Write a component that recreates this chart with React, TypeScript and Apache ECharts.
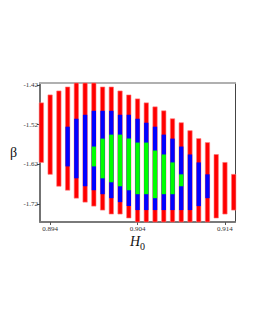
import React, { useEffect, useRef } from "react";
import * as echarts from "echarts";

// H0 values of each column
const h0Values = [
  0.893, 0.894, 0.895, 0.896, 0.897, 0.898, 0.899, 0.9, 0.901, 0.902, 0.903, 0.904,
  0.905, 0.906, 0.907, 0.908, 0.909, 0.91, 0.911, 0.912, 0.913, 0.914, 0.915,
];
// outer (red) region: top & bottom cell centres of beta per column
const redTop = [
  -1.47, -1.45, -1.44, -1.43, -1.42, -1.42, -1.42, -1.43, -1.43, -1.44, -1.45, -1.46,
  -1.47, -1.48, -1.49, -1.51, -1.52, -1.54, -1.56, -1.57, -1.6, -1.62, -1.65,
];
const redBottom = [
  -1.61, -1.64, -1.67, -1.68, -1.7, -1.71, -1.72, -1.73, -1.74, -1.74, -1.75, -1.76,
  -1.76, -1.76, -1.76, -1.76, -1.76, -1.76, -1.76, -1.76, -1.75, -1.74, -1.73,
];
// middle (blue) region
const blueTop = [
  null, null, null, -1.53, -1.51, -1.5, -1.49, -1.49, -1.49, -1.5, -1.5, -1.51,
  -1.52, -1.53, -1.55, -1.56, -1.58, -1.6, -1.62, -1.65, null, null, null,
];
const blueBottom = [
  null, null, null, -1.62, -1.65, -1.67, -1.68, -1.69, -1.7, -1.71, -1.72, -1.73,
  -1.73, -1.73, -1.73, -1.73, -1.73, -1.73, -1.72, -1.7, null, null, null,
];
// inner (green) region
const greenTop = [
  null, null, null, null, null, null, -1.58, -1.56, -1.55, -1.55, -1.56, -1.57,
  -1.57, -1.59, -1.6, -1.62, -1.65, null, null, null, null, null, null,
];
const greenBottom = [
  null, null, null, null, null, null, -1.62, -1.65, -1.66, -1.67, -1.68, -1.69,
  -1.69, -1.7, -1.69, -1.69, -1.67, null, null, null, null, null, null,
];

const yTicks = [-1.72, -1.62, -1.52, -1.42];
const xTicks = [0.894, 0.904, 0.914];

const X_STEP = 0.001;
const Y_HALF = 0.005;

function segs(tops: (number | null)[], bottoms: (number | null)[]) {
  const out: number[][] = [];
  h0Values.forEach((x, i) => {
    const t = tops[i];
    const b = bottoms[i];
    if (t != null && b != null) out.push([x, t, b]);
  });
  return out;
}

function makeRender(fill: string, widthFrac: number, stroke?: string) {
  return (params: any, api: any) => {
    const x = api.value(0);
    const t = api.value(1);
    const b = api.value(2);
    const p0 = api.coord([x, t + Y_HALF]);
    const p1 = api.coord([x, b - Y_HALF]);
    const w = api.size([X_STEP, 0])[0] * widthFrac;
    const cs = params.coordSys;
    const top = Math.max(p0[1], cs.y);
    const bot = Math.min(p1[1], cs.y + cs.height);
    return {
      type: "rect",
      shape: { x: p0[0] - w / 2, y: top, width: w, height: bot - top },
      style: stroke
        ? { fill, stroke, lineWidth: 1 }
        : { fill },
    };
  };
}

const serif = "'Liberation Serif', 'DejaVu Serif', serif";

export default function App() {
  const ref = useRef<HTMLDivElement>(null);
  useEffect(() => {
    if (!ref.current) return;
    const chart = echarts.init(ref.current, undefined, { renderer: "svg" });
    chart.setOption({
      animation: false,
      backgroundColor: "#ffffff",
      grid: { left: 40, right: 20, top: 83, bottom: 108 },
      xAxis: [
        {
          type: "value",
          min: 0.89284,
          max: 0.91515,
          axisLine: { show: true, lineStyle: { color: "#7a7a7a", width: 2 } },
          axisTick: {
            show: true,
            customValues: xTicks,
            length: 3,
            lineStyle: { color: "#555" },
          },
          axisLabel: {
            customValues: xTicks,
            formatter: (v: number) => v.toFixed(3),
            fontFamily: serif,
            fontSize: 7,
            color: "#333",
            margin: 3,
          },
          splitLine: { show: false },
          name: "{i|H}{s|0}",
          nameLocation: "middle",
          nameGap: 10,
          nameTextStyle: {
            rich: {
              i: { fontFamily: serif, fontStyle: "italic", fontSize: 14, color: "#111" },
              s: { fontFamily: serif, fontSize: 10, color: "#111", padding: [9, 0, 0, 0] },
            },
          },
        },
        {
          type: "value",
          position: "top",
          min: 0.89284,
          max: 0.91515,
          axisLine: { show: true, lineStyle: { color: "#b0b0b0", width: 2 } },
          axisTick: { show: false },
          axisLabel: { show: false },
          splitLine: { show: false },
        },
      ],
      yAxis: [
        {
          type: "value",
          min: -1.765,
          max: -1.415,
          axisLine: { show: true, lineStyle: { color: "#444", width: 1.5 } },
          axisTick: {
            show: true,
            customValues: yTicks,
            length: 3,
            lineStyle: { color: "#444" },
          },
          axisLabel: {
            customValues: yTicks,
            formatter: (v: number) => v.toFixed(2),
            fontFamily: serif,
            fontSize: 7,
            color: "#333",
            margin: 2,
          },
          splitLine: { show: false },
          name: "β",
          nameLocation: "middle",
          nameRotate: 0,
          nameGap: 23,
          nameTextStyle: { fontFamily: serif, fontSize: 14, color: "#111" },
        },
        {
          type: "value",
          position: "right",
          min: -1.765,
          max: -1.415,
          axisLine: { show: true, lineStyle: { color: "#444", width: 1 } },
          axisTick: { show: false },
          axisLabel: { show: false },
          splitLine: { show: false },
        },
      ],
      series: [
        {
          type: "custom",
          renderItem: makeRender("#ff0000", 0.5, "rgba(255,120,120,0.6)"),
          data: segs(redTop, redBottom),
          encode: { x: 0, y: [1, 2] },
          z: 1,
        },
        {
          type: "custom",
          renderItem: makeRender("#0000ff", 0.5),
          data: segs(blueTop, blueBottom),
          encode: { x: 0, y: [1, 2] },
          z: 2,
        },
        {
          type: "custom",
          renderItem: makeRender("#00ff00", 0.5),
          data: segs(greenTop, greenBottom),
          encode: { x: 0, y: [1, 2] },
          z: 3,
        },
      ],
    });
    return () => chart.dispose();
  }, []);
  return (
    <div
      ref={ref}
      style={{ position: "fixed", left: 0, top: 0, width: 255, height: 330 }}
    />
  );
}
